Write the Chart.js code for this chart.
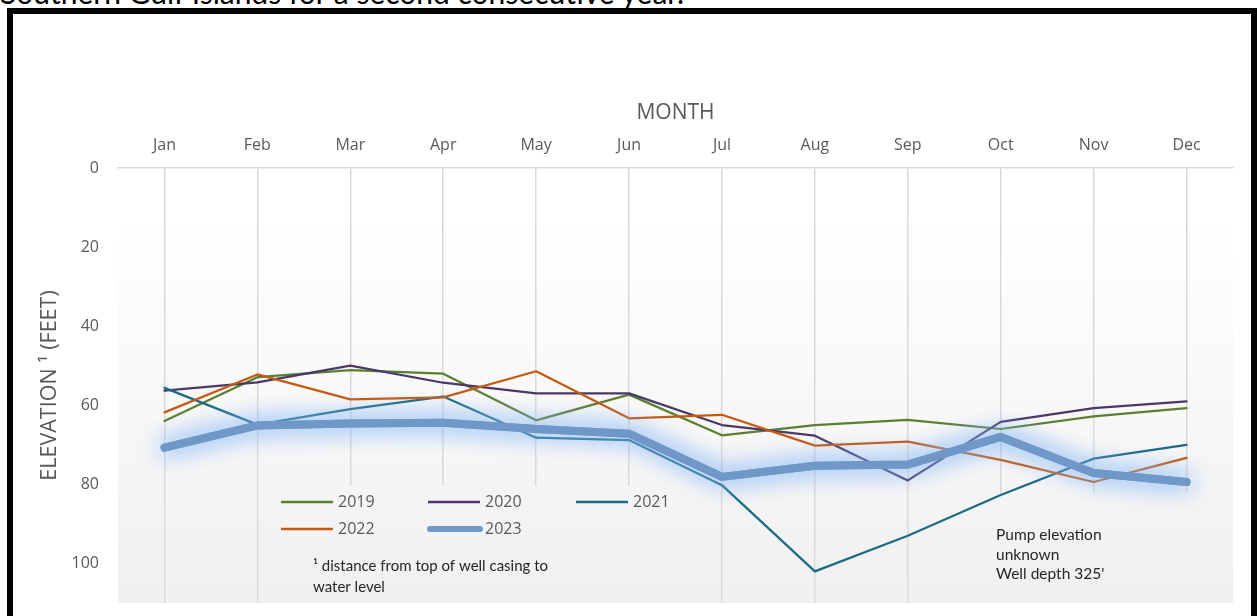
<!DOCTYPE html>
<html>
<head>
<meta charset="utf-8">
<script src="https://cdn.jsdelivr.net/npm/chart.js@4/dist/chart.umd.min.js"></script>
<style>
  html, body { margin: 0; padding: 0; background: #fff; width: 1257px; height: 616px; overflow: hidden; }
  #caption { position: absolute; left: 0; top: -23px; font: 30px Lato, sans-serif; line-height: 30px; color: #000; white-space: nowrap; }
  #frame { position: absolute; left: 7px; top: 8px; width: 1250px; height: 700px; box-sizing: border-box;
           border: 6px solid #000; border-bottom: none; pointer-events: none; }
  canvas { position: absolute; left: 0; top: 0; }
</style>
</head>
<body>
<div id="caption">Southern Gulf Islands for a second consecutive year.</div>
<canvas id="wellChart" width="1257" height="616"></canvas>
<div id="frame"></div>
<script>
const months = ["Jan", "Feb", "Mar", "Apr", "May", "Jun", "Jul", "Aug", "Sep", "Oct", "Nov", "Dec"];
const years = ["2019", "2020", "2021", "2022", "2023"];

// depth to water (feet)
const y2019 = [64, 52.9, 51.1, 52, 63.8, 57.3, 67.6, 65, 63.7, 66, 62.8, 60.7];
const y2020 = [56.3, 54.2, 50, 54.3, 57, 57, 65, 67.7, 79, 64.2, 60.7, 59];
const y2021 = [55.6, 64.9, 61, 57.8, 68.2, 68.8, 80.2, 102, 93, 82.7, 73.5, 70];
const y2022 = [61.8, 52.2, 58.5, 58, 51.4, 63.3, 62.4, 70.2, 69.2, 73.8, 79.4, 73.3];
const y2023 = [70.7, 65.1, 64.6, 64.4, 66, 67.2, 78.1, 75.3, 75, 68, 77.1, 79.4];

const yTicks = [0, 20, 40, 60, 80, 100];
const footnote = ["\u00b9 distance from top of well casing to", "water level"];
const pumpNote = ["Pump elevation", "unknown", "Well depth 325'"];

const seriesColors = ["#5b7f30", "#4a3868", "#1d6b83", "#c4590f", "#6f98c9"];
const seriesData = [y2019, y2020, y2021, y2022, y2023];

Chart.defaults.font.family = "'Open Sans', sans-serif";
Chart.defaults.color = "#595959";

// plot background gradient + boxes behind the legend / notes
const plotBg = {
  id: "plotBg",
  beforeDraw(chart) {
    const { ctx, chartArea: a } = chart;
    const g = ctx.createLinearGradient(0, a.top, 0, a.bottom);
    g.addColorStop(0, "#ffffff");
    g.addColorStop(0.11, "#ffffff");
    g.addColorStop(1, "#f0f0f0");
    chart.$bg = g;
    ctx.save();
    ctx.fillStyle = g;
    ctx.fillRect(a.left, a.top, a.right - a.left, a.bottom - a.top);
    ctx.restore();
  },
  beforeDatasetsDraw(chart) {
    const { ctx, chartArea: a } = chart;
    ctx.save();
    ctx.fillStyle = chart.$bg;
    ctx.fillRect(268, 486, 437, a.bottom - 486);
    ctx.fillRect(986, 493, a.right - 986, a.bottom - 493);
    ctx.restore();
  },
};

// glow on the 2023 line (extra pass makes the halo stronger)
const glow = {
  id: "glow",
  beforeDatasetDraw(chart, args) {
    if (args.index !== 4) return;
    const ctx = chart.ctx;
    ctx.save();
    ctx.shadowColor = "rgba(130, 180, 245, 1)";
    ctx.shadowBlur = 24;
    args.meta.controller.draw();
  },
  afterDatasetDraw(chart, args) {
    if (args.index !== 4) return;
    chart.ctx.restore();
  },
};

// legend + text notes inside the plot
const notes = {
  id: "notes",
  afterDatasetsDraw(chart) {
    const ctx = chart.ctx;
    const slots = [[281, 502], [428, 502], [576, 502], [281, 529], [428, 529]];
    ctx.save();
    ctx.textBaseline = "middle";
    ctx.font = "16px 'Open Sans'";
    chart.data.datasets.forEach((ds, i) => {
      const [x, y] = slots[i];
      ctx.beginPath();
      ctx.strokeStyle = ds.borderColor;
      if (i === 4) {
        ctx.lineWidth = 6;
        ctx.lineCap = "round";
        ctx.moveTo(x + 2, y);
        ctx.lineTo(x + 52, y);
      } else {
        ctx.lineWidth = 2.5;
        ctx.lineCap = "butt";
        ctx.moveTo(x, y);
        ctx.lineTo(x + 52, y);
      }
      ctx.stroke();
      ctx.fillStyle = "#595959";
      ctx.fillText(ds.label, x + 57, y);
    });
    ctx.fillStyle = "#262626";
    ctx.font = "15px Lato";
    footnote.forEach((t, i) => ctx.fillText(t, 313, 566 + i * 21));
    ctx.font = "15.5px Lato";
    pumpNote.forEach((t, i) => ctx.fillText(t, 996, 535 + i * 19.5));
    ctx.restore();
  },
};

new Chart(document.getElementById("wellChart"), {
  type: "line",
  data: {
    labels: months,
    datasets: years.map((yr, i) => ({
      label: yr,
      data: seriesData[i],
      borderColor: seriesColors[i],
      backgroundColor: seriesColors[i],
      borderWidth: i === 4 ? 8 : 2.25,
      borderCapStyle: "round",
      borderJoinStyle: "round",
      pointRadius: 0,
      tension: 0,
      order: 5 - i,
    })),
  },
  options: {
    responsive: false,
    animation: false,
    layout: { padding: { left: 34, top: 97, right: 24, bottom: 13 } },
    plugins: { legend: { display: false }, tooltip: { enabled: false } },
    scales: {
      x: {
        position: "top",
        offset: true,
        afterFit: (axis) => { axis.height = 71; axis.paddingLeft = 0; axis.paddingRight = 0; },
        grid: { offset: false, color: "#d9d9d9", lineWidth: 1.5, drawTicks: false },
        border: { display: true, color: "#d9d9d9", width: 1.5 },
        ticks: { padding: 13, font: { size: 16 }, color: "#595959" },
        title: { display: true, text: "MONTH", font: { size: 21 }, color: "#595959", padding: { top: 3, bottom: 3 } },
      },
      y: {
        reverse: true,
        min: 0,
        max: 110,
        afterFit: (axis) => { axis.width = 84; axis.paddingTop = 0; axis.paddingBottom = 0; },
        afterBuildTicks: (axis) => { axis.ticks = yTicks.map((v) => ({ value: v })); },
        grid: { display: false, drawTicks: false },
        border: { display: false },
        ticks: { padding: 19, font: { size: 16 }, color: "#595959" },
        title: { display: true, text: "ELEVATION \u00b9 (FEET)", font: { size: 21.5 }, color: "#595959", padding: { top: 3, bottom: 3 } },
      },
    },
  },
  plugins: [plotBg, glow, notes],
});
</script>
</body>
</html>
